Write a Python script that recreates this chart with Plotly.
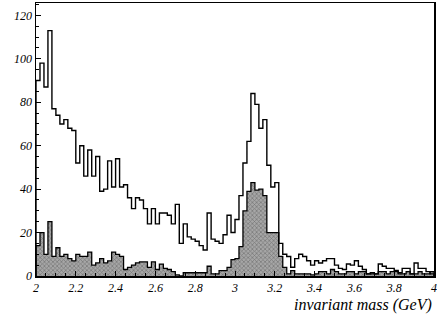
import plotly.graph_objects as go

# histogram binning (GeV)
bin_lo = 2.0
bin_width = 0.02

# all events (open histogram)
open_counts = [
    90, 98, 87, 113, 77, 74, 70, 72, 68, 67,
    52, 60, 46, 58, 46, 55, 39, 40, 53, 41,
    54, 41, 42, 36, 31, 36, 35, 31, 24, 31,
    24, 29, 29, 28, 24, 33, 15, 24, 18, 17,
    16, 14, 12, 29, 17, 16, 15, 19, 28, 20,
    26, 37, 52, 62, 84, 79, 68, 72, 51, 41,
    43, 15, 10, 9, 4, 8, 10, 9, 7, 5,
    7, 6, 7, 8, 8, 5, 3.5, 3, 5.5, 5,
    7, 4.5, 3, 1, 1.5, 1, 5.5, 4.5, 3.5, 3.5,
    2.5, 1.5, 3.5, 3.5, 1, 6, 3.5, 3.5, 2, 1,
]

# selected events (filled histogram)
filled_counts = [
    14, 20, 10, 25, 9, 13, 9, 10, 8, 7,
    10, 9, 9, 11, 5, 6, 8, 6, 7, 11,
    10, 9, 3, 4, 5, 6, 6.5, 6.5, 4, 6.5,
    3, 5.5, 3.5, 3, 2, 0.5, 0, 1.5, 1.5, 1.5,
    1.5, 1.5, 1.5, 4.5, 1, 1, 2.5, 2.5, 4, 7.5,
    8, 13.5, 30, 39, 43, 39.5, 40, 37, 20, 20,
    20, 9, 4, 1, 2.5, 1, 1, 1, 1, 0.5,
    1, 2, 2, 1, 3, 2, 1, 1, 2, 2,
    1, 2, 2, 1, 1, 1, 2, 2, 1, 2,
    2, 1, 1, 2, 1, 1, 2, 1, 1, 2,
]

x_ticks = [2.0, 2.2, 2.4, 2.6, 2.8, 3.0, 3.2, 3.4, 3.6, 3.8, 4.0]
x_tick_text = ["2", "2.2", "2.4", "2.6", "2.8", "3", "3.2", "3.4", "3.6", "3.8", "4"]
y_ticks = [0, 20, 40, 60, 80, 100, 120]

n = len(open_counts)
edges = [round(bin_lo + i * bin_width, 4) for i in range(n + 1)]


def step_xy(counts):
    xs = [edges[0]] + edges + [edges[-1]]
    ys = [0] + list(counts) + [counts[-1], 0]
    return xs, ys


fx, fy = step_xy(filled_counts)
ox, oy = step_xy(open_counts)

serif = "Liberation Serif, Times New Roman, serif"
ink = "#000000"

fig = go.Figure()
fig.add_trace(go.Scatter(
    x=fx, y=fy, mode="lines", line=dict(shape="hv", color=ink, width=1.3),
    fill="tozeroy", fillcolor="#8a8a8a",
    fillpattern=dict(shape="x", size=3, solidity=0.4, fgcolor="#444444", bgcolor="#a6a6a6"),
    hoverinfo="skip", showlegend=False,
))
fig.add_trace(go.Scatter(
    x=ox, y=oy, mode="lines", line=dict(shape="hv", color=ink, width=1.4),
    hoverinfo="skip", showlegend=False,
))

fig.update_layout(
    width=437, height=323,
    margin=dict(l=36, r=3, t=3, b=47, autoexpand=False),
    paper_bgcolor="white", plot_bgcolor="white",
    font=dict(family=serif, size=12, color=ink, style="italic"),
    xaxis=dict(
        range=[2, 4], tickvals=x_ticks, ticktext=x_tick_text,
        ticks="inside", ticklen=5, tickcolor=ink, automargin=False,
        showline=True, linecolor=ink, linewidth=1.5, mirror=True,
        showgrid=False, zeroline=False,
        minor=dict(dtick=0.05, ticks="inside", ticklen=3, tickcolor=ink),
        tickfont=dict(family=serif, size=12, style="italic", color=ink),
    ),
    yaxis=dict(
        range=[0, 125.7], tickvals=y_ticks,
        ticks="inside", ticklen=5, tickcolor=ink, automargin=False,
        showline=True, linecolor=ink, linewidth=1.5, mirror=True,
        showgrid=False, zeroline=False,
        minor=dict(dtick=5, ticks="inside", ticklen=3, tickcolor=ink),
        tickfont=dict(family=serif, size=12, style="italic", color=ink),
    ),
    annotations=[dict(
        text="invariant mass (GeV)", xref="paper", yref="paper",
        x=1.0, y=-0.108, xanchor="right", yanchor="middle", showarrow=False,
        font=dict(family=serif, size=16, style="italic", color=ink),
    )],
)

fig.write_html(
    "out.html",
    config={"displayModeBar": False, "staticPlot": True},
    post_script="document.body.style.margin='0';document.body.style.overflow='hidden';",
)
